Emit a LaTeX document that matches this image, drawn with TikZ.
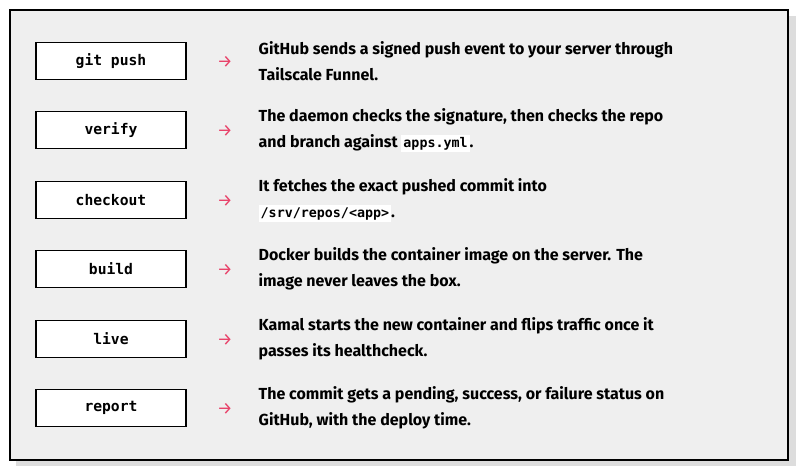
\documentclass[tikz,border=0pt]{standalone}
\usepackage{fontspec}
\setmainfont{Fira Sans}
\setmonofont{DejaVu Sans Mono}
\usetikzlibrary{positioning}

\newlength{\du}
\setlength{\du}{0.75pt}
\definecolor{panelfill}{HTML}{EFEFEF}
\definecolor{shadowgray}{HTML}{DDDDDD}
\definecolor{arrowred}{HTML}{E8436A}
\newcommand{\code}[1]{\setlength{\fboxsep}{1.5pt}\colorbox{white}{\ttfamily\bfseries\fontsize{10}{12}\selectfont #1}}

\tikzset{
  stage/.style={draw=black, line width=1.4pt, fill=white, minimum width=150\du, minimum height=37\du,
    font=\ttfamily\bfseries\fontsize{11}{13}\selectfont},
  arr/.style={text=arrowred, font=\fontsize{13}{13}\selectfont},
  desc/.style={anchor=west, align=left, font=\bfseries\fontsize{12}{19.5}\selectfont}
}

\begin{document}
\begin{tikzpicture}
\pgftransformyscale{-1.000000}
\useasboundingbox (0,0) rectangle (800\du,474\du);

% panel
\fill[shadowgray] (16\du,16\du) rectangle (796\du,466\du);
\draw[line width=1.4pt, fill=panelfill] (10\du,10\du) rectangle (788\du,460\du);

% stages
\node[stage] (push) at (111\du,61\du) {git push};
\node[stage] (verify) at (111\du,130\du) {verify};
\node[stage] (checkout) at (111\du,200\du) {checkout};
\node[stage] (build) at (111\du,269\du) {build};
\node[stage] (live) at (111\du,339\du) {live};
\node[stage] (report) at (111\du,408\du) {report};

% arrows
\node[arr] (apush) at (225\du,62\du) {→};
\node[arr] (averify) at (225\du,131\du) {→};
\node[arr] (acheckout) at (225\du,201\du) {→};
\node[arr] (abuild) at (225\du,270\du) {→};
\node[arr] (alive) at (225\du,340\du) {→};
\node[arr] (areport) at (225\du,409\du) {→};

% descriptions
\node[desc] (dpush) at (254\du,61\du) {GitHub sends a signed push event to your server through\\Tailscale Funnel.};
\node[desc] (dverify) at (254\du,130\du) {The daemon checks the signature, then checks the repo\\and branch against \code{apps.yml}.};
\node[desc] (dcheckout) at (254\du,200\du) {It fetches the exact pushed commit into\\\code{/srv/repos/<app>}.};
\node[desc] (dbuild) at (254\du,269\du) {Docker builds the container image on the server. The\\image never leaves the box.};
\node[desc] (dlive) at (254\du,339\du) {Kamal starts the new container and flips traffic once it\\passes its healthcheck.};
\node[desc] (dreport) at (254\du,408\du) {The commit gets a pending, success, or failure status on\\GitHub, with the deploy time.};

\end{tikzpicture}
\end{document}
